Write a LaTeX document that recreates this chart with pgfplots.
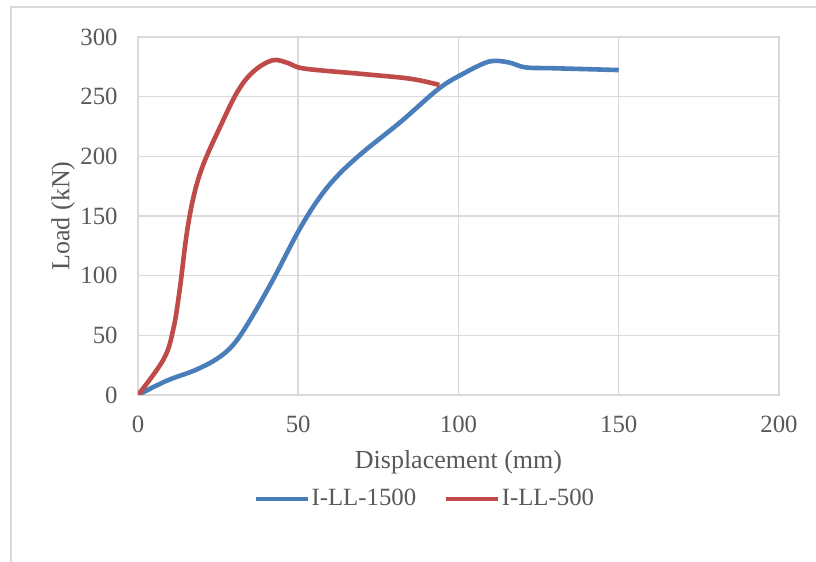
\documentclass[border=0pt]{standalone}
\usepackage{fontspec}
\setmainfont{Liberation Serif}
\usepackage{pgfplots}
\pgfplotsset{compat=1.18}
\definecolor{xblue}{HTML}{4A7EBB}
\definecolor{xred}{HTML}{BE4B48}
\definecolor{gridc}{HTML}{D9D9D9}
\definecolor{txt}{HTML}{595959}
\begin{document}
\begin{tikzpicture}
\useasboundingbox (0,0) rectangle (408pt,281pt);
\fill[white] (0,0) rectangle (408pt,281pt);
\draw[gridc, line width=0.75pt] (5.5pt,0) -- (5.5pt,277.5pt) -- (408pt,277.5pt);
\begin{axis}[
  at={(69pt,83.5pt)}, anchor=south west,
  scale only axis, width=320.5pt, height=179pt,
  xmin=0, xmax=200, ymin=0, ymax=300,
  xtick={0,50,...,200}, ytick={0,50,...,300},
  grid=major, major grid style={gridc, line width=0.75pt},
  axis line style={gridc, line width=0.75pt},
  tick style={draw=none},
  /pgf/number format/assume math mode=true,
  ticklabel style={font=\fontsize{12.4}{14}\selectfont, text=txt, inner sep=0pt},
  xticklabel style={anchor=center, yshift=-14.5pt},
  yticklabel style={anchor=east, xshift=-10pt},
  xlabel={Displacement (mm)}, ylabel={Load (kN)},
  label style={font=\fontsize{13}{15}\selectfont, text=txt},
  xlabel style={at={(axis description cs:0.5,-0.187)}, anchor=center},
  ylabel style={at={(axis description cs:-0.117,0.5)}, anchor=center},
  legend columns=2,
  legend style={at={(axis description cs:0.447,-0.2905)}, anchor=center, draw=none, fill=none,
    font=\fontsize{12.4}{14}\selectfont, text=txt, inner sep=0pt,
    nodes={inner sep=0.75pt},
    /tikz/every even column/.append style={column sep=13pt}},
  legend image code/.code={\draw[#1] (0pt,0pt) -- (26pt,0pt);},
]
\addplot[xblue, line width=2.3pt, smooth, tension=0.6] coordinates {
(0,0) (9,12) (18,21) (25,31) (30,43) (35,63) (42,96) (50,137) (56,163) (62,183) (70,203) (82,229) (94,257) (102,270) (108,278) (111.5,280) (116,278.5) (121,274.5) (130,273.8) (150,272.3)
};
\addlegendentry{I-LL-1500}
\addplot[xred, line width=2.3pt, smooth, tension=0.6] coordinates {
(0,0) (8,30) (11,55) (13,88) (15.2,135) (17.5,168) (20.5,194) (25.5,224) (31,254) (36,271) (42,280.5) (47,278) (52,273.5) (70,269) (85,265) (94,259.8)
};
\addlegendentry{I-LL-500}
\end{axis}
\end{tikzpicture}
\end{document}
